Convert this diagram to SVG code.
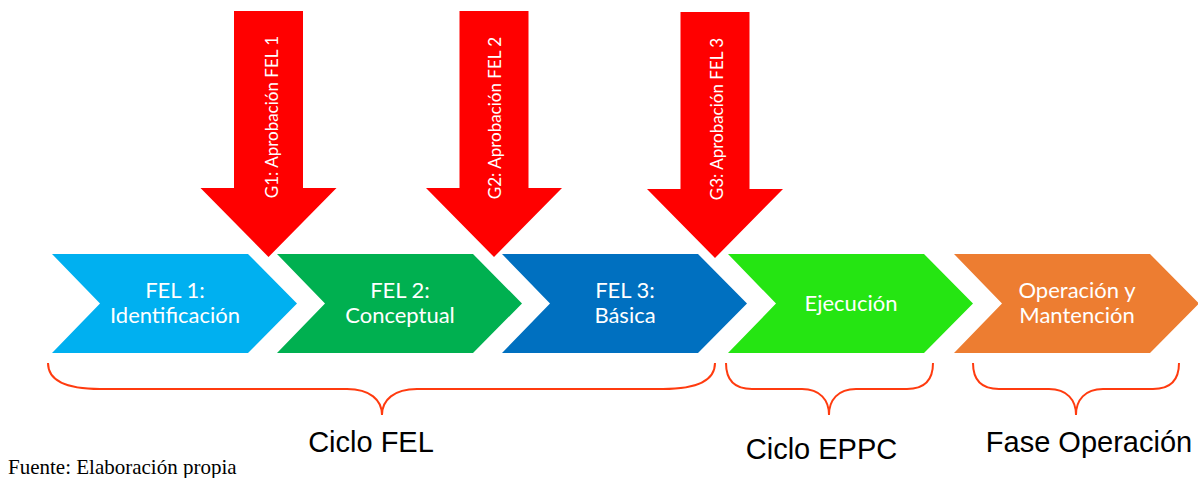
<svg xmlns="http://www.w3.org/2000/svg" width="1198" height="478" viewBox="0 0 1198 478">
  <style>
    .chev-text { font-family: Lato, "Open Sans", sans-serif; font-size: 22px; fill: #FFFFFF; text-anchor: middle; }
    .gate { fill: #FF0000; }
    .gate-text { font-family: Lato, "Open Sans", sans-serif; font-size: 17px; fill: #FFFFFF; text-anchor: middle; }
    .brace { fill: none; stroke: #FF3B0F; stroke-width: 2; }
    .label { font-family: "Liberation Sans", Arial, sans-serif; font-size: 29px; fill: #000000; text-anchor: middle; }
    .source { font-family: "Liberation Serif", "Times New Roman", serif; font-size: 21px; fill: #000000; }
  </style>
  <defs>
    <!-- one chevron: 245 wide, 99 tall, 49 deep head and notch -->
    <polygon id="chevron" points="0,0 196,0 245,49.5 196,99 0,99 48,49.5"/>
    <!-- downward gate arrow, centered on x=0, tip at y=0 -->
    <polygon id="gate-arrow" points="-34.5,-246 34.5,-246 34.5,-69 68,-69 0,0 -68,-69 -34.5,-69"/>
  </defs>

  <!-- phase chevrons -->
  <g id="fel1">
    <use href="#chevron" x="52" y="254" fill="#00B0F0"/>
    <text class="chev-text" x="175" y="298">FEL 1:</text>
    <text class="chev-text" x="175" y="323">Identificación</text>
  </g>
  <g id="fel2">
    <use href="#chevron" x="277" y="254" fill="#00B050"/>
    <text class="chev-text" x="400" y="298">FEL 2:</text>
    <text class="chev-text" x="400" y="323">Conceptual</text>
  </g>
  <g id="fel3">
    <use href="#chevron" x="502" y="254" fill="#0070C0"/>
    <text class="chev-text" x="625" y="298">FEL 3:</text>
    <text class="chev-text" x="625" y="323">Básica</text>
  </g>
  <g id="ejecucion">
    <use href="#chevron" x="728" y="254" fill="#25E512"/>
    <text class="chev-text" x="851" y="311">Ejecución</text>
  </g>
  <g id="operacion">
    <use href="#chevron" x="954" y="254" fill="#ED7D31"/>
    <text class="chev-text" x="1077" y="298">Operación y</text>
    <text class="chev-text" x="1077" y="323">Mantención</text>
  </g>

  <!-- approval gates -->
  <g id="g1">
    <use href="#gate-arrow" x="268.5" y="257" class="gate"/>
    <text class="gate-text" transform="translate(278,117) rotate(-90)">G1: Aprobación FEL 1</text>
  </g>
  <g id="g2">
    <use href="#gate-arrow" x="494" y="257" class="gate"/>
    <text class="gate-text" transform="translate(501,118) rotate(-90)">G2: Aprobación FEL 2</text>
  </g>
  <g id="g3">
    <use href="#gate-arrow" x="715" y="258" class="gate"/>
    <text class="gate-text" transform="translate(723,119) rotate(-90)">G3: Aprobación FEL 3</text>
  </g>

  <!-- grouping braces -->
  <g id="connectors">
    <path class="brace" d="M48,363 C48,380 65,389 100,389 L347,389 C370,389 382,400 382,415 C382,400 394,389 417,389 L663,389 C698,389 715,380 715,363"/>
    <path class="brace" d="M726,363 C726,380 735,389 752,389 L802,389 C820,389 829,400 829,415 C829,400 838,389 856,389 L907,389 C924,389 933,380 933,363"/>
    <path class="brace" d="M973,363 C973,380 982,389 999,389 L1049,389 C1067,389 1076,400 1076,415 C1076,400 1085,389 1103,389 L1153,389 C1170,389 1179,380 1179,363"/>
  </g>

  <!-- brace labels -->
  <g id="labels">
    <text class="label" x="371" y="452">Ciclo FEL</text>
    <text class="label" x="821.5" y="459">Ciclo EPPC</text>
    <text class="label" x="1089" y="452">Fase Operación</text>
  </g>

  <text class="source" x="8" y="474">Fuente: Elaboración propia</text>
</svg>
